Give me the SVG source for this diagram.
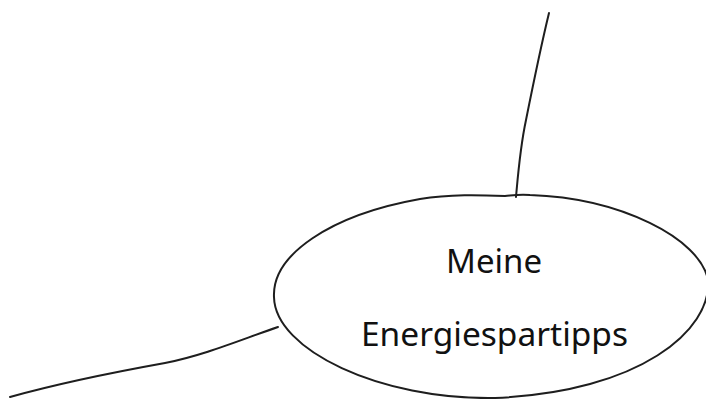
<svg xmlns="http://www.w3.org/2000/svg" width="706" height="399" viewBox="0 0 706 399">
<style>
.ln{fill:none;stroke:#1e1e1e;stroke-width:2;stroke-linecap:round;stroke-linejoin:round}
.t{font-family:"Noto Sans","DejaVu Sans",sans-serif;font-size:32px;fill:#111;text-anchor:middle}
</style>
<rect width="706" height="399" fill="#fff"/>
<g id="connectors">
<path class="ln" d="M549,13 C540,50 532,90 526,120 C520,148 518,175 516,197"/>
<path class="ln" d="M278,327 C240,340 205,355 165,363 C115,372 60,383 10,397"/>
</g>
<g id="node-main">
<path class="ln" d="M274,297 C272,255 330,215 420,199 C450,194 480,195 505,196 C515,195 520,194 530,195 C620,198 700,238 708,280 C712,330 640,392 495,398 C380,400 275,350 274,297 Z"/>
<text class="t" x="494" y="273" textLength="96" lengthAdjust="spacingAndGlyphs">Meine</text>
<text class="t" x="494.5" y="346" textLength="267" lengthAdjust="spacingAndGlyphs">Energiespartipps</text>
</g>
</svg>
